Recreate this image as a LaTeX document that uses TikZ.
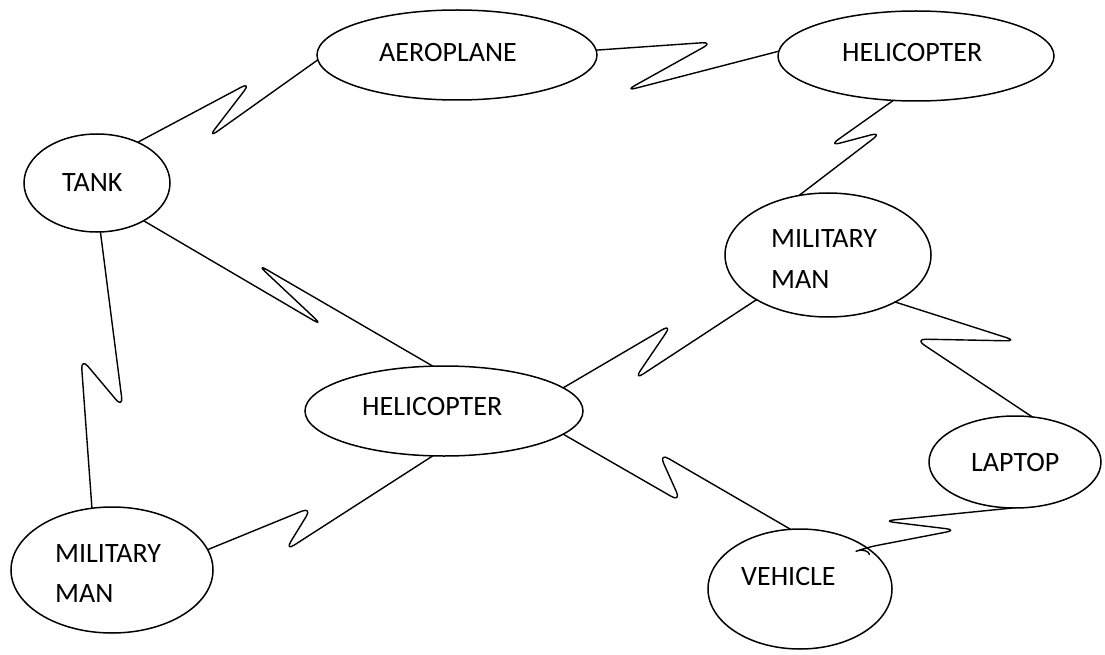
\documentclass[tikz,border=0pt]{standalone}
\usepackage{fontspec}
\setmainfont{Carlito}
\usetikzlibrary{shapes.geometric}
\begin{document}
\begin{tikzpicture}[x=1pt,y=-1pt,
  ell/.style={draw, ellipse, line width=1.5pt, inner sep=0pt, outer sep=0pt},
  lbl/.style={anchor=base west, inner sep=0pt, font=\fontsize{28}{34}\selectfont},
  zig/.style={line width=1.4pt, rounded corners=11pt, line join=round, line cap=round}]
\useasboundingbox (0,0) rectangle (1105,655);
% ellipses
\node[ell, minimum width=146, minimum height=98] (tank) at (97,183) {};
\node[ell, minimum width=280, minimum height=90] (aero) at (457,55) {};
\node[ell, minimum width=276, minimum height=90] (heli1) at (916,56) {};
\node[ell, minimum width=206, minimum height=124] (milr) at (828,255) {};
\node[ell, minimum width=278, minimum height=90] (heli2) at (444,411) {};
\node[ell, minimum width=172, minimum height=92] (lap) at (1015,462) {};
\node[ell, minimum width=202, minimum height=126] (mill) at (112,570) {};
\node[ell, minimum width=184, minimum height=120] (veh) at (800,589) {};
% texts
\node[lbl] (taero) at (379,62) {AEROPLANE};
\node[lbl] (theli1) at (842,62) {HELICOPTER};
\node[lbl] (ttank) at (62,192) {TANK};
\node[lbl] (tmilra) at (771,247) {MILITARY};
\node[lbl] (tmilrb) at (771,288) {MAN};
\node[lbl] (theli2) at (362,415) {HELICOPTER};
\node[lbl] (tlap) at (971,471) {LAPTOP};
\node[lbl] (tmilla) at (55,562) {MILITARY};
\node[lbl] (tmillb) at (55,602) {MAN};
\node[lbl] (tveh) at (741,585) {VEHICLE};
% connectors
\draw[zig] (tank.45) -- (251,82) -- (208,138) -- (aero.182);
\draw[zig] (aero.2.5) -- (713,42) -- (625,91) -- (heli1.178.8);
\draw[zig] (heli1.-117) -- (829,146) -- (882,132) -- (milr.116);
\draw[zig] (tank.-39) -- (323,326) -- (257,264) -- (heli2.104);
\draw[zig] (tank.-86.6) -- (123,408) -- (81,358) -- (mill.108);
\draw[zig] (mill.12.9) -- (312,507) -- (285,551) -- (heli2.-104);
\draw[zig] (heli2.11.7) -- (672,324) -- (634,380) -- (milr.212);
\draw[zig] (heli2.-11.7) -- (681,502) -- (659,453) -- (veh.99);
\draw[zig] (milr.-35.6) -- (1017,341) -- (915,339) -- (lap.69);
\draw[zig] (lap.-93.7) -- (883,521) -- (957,530) -- (veh.32) to[out=200,in=100] ++(3,7);
\end{tikzpicture}
\end{document}
